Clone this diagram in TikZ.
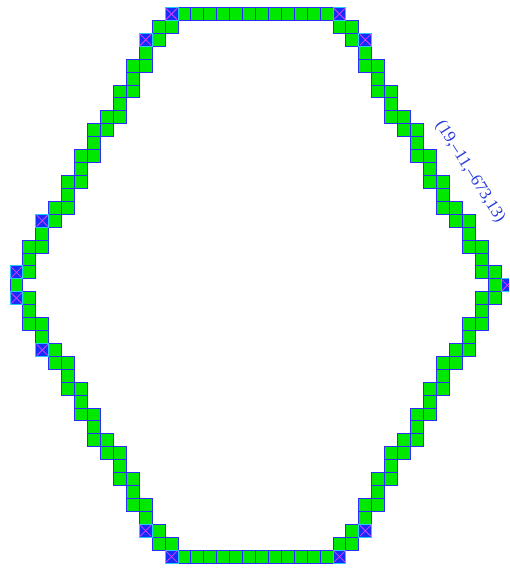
\documentclass[tikz,border=0pt]{standalone}
\usepackage{fontspec}
\newfontfamily\labelfont{Liberation Serif}
\definecolor{cellgreen}{RGB}{0,232,0}
\definecolor{cellblue}{RGB}{45,45,255}
\definecolor{xfill}{RGB}{20,45,250}
\definecolor{xborder}{RGB}{40,200,255}
\definecolor{xcross}{RGB}{225,60,255}
\definecolor{labelblue}{RGB}{40,60,220}
\tikzset{
  gcell/.style={fill=cellgreen,draw=cellblue,line width=0.9pt},
  xcell/.style={fill=xfill,draw=xborder,line width=0.9pt},
  xmark/.style={draw=xcross,line width=0.8pt},
  lbl/.style={text=labelblue,font=\labelfont\fontsize{17}{19}\selectfont,inner sep=0pt}
}
\def\cs{12.92}
\begin{document}
\begin{tikzpicture}[x=1pt,y=-1pt]
\clip (0,0) rectangle (509,570);
\fill[white] (0,0) rectangle (509,570);
% top and bottom rows
\foreach \c in {13,...,24} {
  \draw[gcell] ({10+\cs*\c},{7.5}) rectangle +(\cs,\cs);
  \draw[gcell] ({10+\cs*\c},{7.5+\cs*42}) rectangle +(\cs,\cs);
}
% slanted edges
\foreach \c/\r in {
 11/1,12/1,11/2,10/3,9/4,10/4,9/5,8/6,9/6,8/7,7/8,8/8,6/9,7/9,6/10,5/11,6/11,5/12,4/13,5/13,4/14,3/15,4/15,3/16,2/17,1/18,2/18,1/19,1/20,0/21,
 1/22,1/23,1/24,2/24,2/25,3/26,3/27,4/27,4/28,4/29,5/29,5/30,5/31,6/31,6/32,6/33,7/33,7/34,8/34,8/35,8/36,9/36,9/37,9/38,10/38,10/39,11/40,11/41,12/41,
 25/1,26/1,26/2,27/3,27/4,28/4,28/5,28/6,29/6,29/7,29/8,30/8,30/9,31/9,31/10,31/11,32/11,32/12,32/13,33/13,33/14,33/15,34/15,34/16,35/16,35/17,35/18,36/18,36/19,36/20,37/20,37/21,
 36/22,37/22,36/23,35/24,36/24,35/25,34/26,35/26,33/27,34/27,33/28,32/29,33/29,32/30,31/31,32/31,31/32,30/33,31/33,29/34,30/34,29/35,28/36,29/36,28/37,27/38,28/38,27/39,26/40,25/41,26/41
} {
  \draw[gcell] ({10+\cs*\c},{7.5+\cs*\r}) rectangle +(\cs,\cs);
}
% vertex cells
\foreach \c/\r in {12/0,25/0,10/2,27/2,2/16,0/20,0/22,38/21,2/26,10/40,27/40,12/42,25/42} {
  \draw[xcell] ({10+\cs*\c},{7.5+\cs*\r}) rectangle +(\cs,\cs);
  \draw[xmark] ({10+\cs*\c+1},{7.5+\cs*\r+1}) -- +({\cs-2},{\cs-2});
  \draw[xmark] ({10+\cs*\c+\cs-1},{7.5+\cs*\r+1}) -- +({-\cs+2},{\cs-2});
}
\node[lbl,rotate=-58] (label) at (470,172) {(19,\textendash11,\textendash673,13)};
\end{tikzpicture}
\end{document}
